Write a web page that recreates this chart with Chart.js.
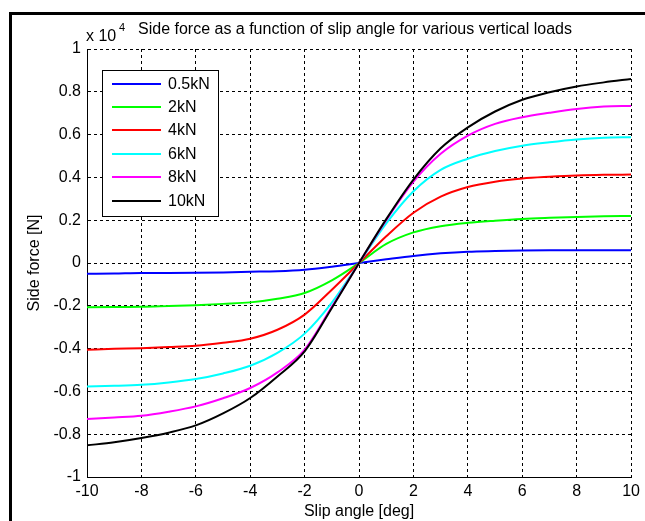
<!DOCTYPE html>
<html>
<head>
<meta charset="utf-8">
<script src="https://cdn.jsdelivr.net/npm/chart.js@4/dist/chart.umd.min.js"></script>
<style>
  html, body { margin: 0; padding: 0; background: #fff; }
  #wrap { width: 645px; height: 521px; position: relative; }
</style>
</head>
<body>
<div id="wrap"><canvas id="sideForce" width="645" height="521"></canvas></div>
<script>
// slip angle in degrees
const slipAngle = [-10, -9, -8, -7, -6, -5, -4, -3, -2, -1, 0, 1, 2, 3, 4, 5, 6, 7, 8, 9, 10];

// side force, in units of 10^4 N
const load05 = [-0.050, -0.049, -0.047, -0.047, -0.046, -0.044, -0.041, -0.038, -0.031, -0.017, 0, 0.017, 0.033, 0.045, 0.053, 0.056, 0.058, 0.059, 0.059, 0.060, 0.060];
const load2 = [-0.207, -0.206, -0.205, -0.201, -0.197, -0.191, -0.184, -0.167, -0.140, -0.081, 0, 0.089, 0.143, 0.172, 0.188, 0.198, 0.206, 0.211, 0.215, 0.218, 0.220];
const load4 = [-0.405, -0.401, -0.398, -0.393, -0.387, -0.373, -0.354, -0.312, -0.241, -0.125, 0, 0.125, 0.235, 0.310, 0.355, 0.380, 0.395, 0.403, 0.409, 0.412, 0.413];
const load6 = [-0.577, -0.574, -0.569, -0.558, -0.542, -0.516, -0.480, -0.420, -0.330, -0.185, 0, 0.185, 0.335, 0.435, 0.487, 0.523, 0.548, 0.564, 0.577, 0.585, 0.588];
const load8 = [-0.729, -0.722, -0.714, -0.695, -0.670, -0.632, -0.584, -0.511, -0.405, -0.205, 0, 0.200, 0.380, 0.510, 0.595, 0.650, 0.681, 0.702, 0.720, 0.731, 0.734];
const load10 = [-0.852, -0.838, -0.818, -0.793, -0.759, -0.703, -0.631, -0.530, -0.413, -0.210, 0, 0.205, 0.390, 0.536, 0.634, 0.708, 0.763, 0.798, 0.825, 0.844, 0.860];

const loadLabels = ["0.5kN", "2kN", "4kN", "6kN", "8kN", "10kN"];
const loadSeries = [load05, load2, load4, load6, load8, load10];
const loadColors = ["#0000ff", "#00ff00", "#ff0000", "#00ffff", "#ff00ff", "#000000"];

const FONT = "Liberation Sans, Arial, sans-serif";

function makeDataset(values, i) {
  return {
    label: loadLabels[i],
    data: values.map((v, j) => ({ x: slipAngle[j], y: v })),
    borderColor: loadColors[i],
    borderWidth: 2,
    pointRadius: 0,
    cubicInterpolationMode: "monotone",
    fill: false,
    order: loadSeries.length - 1 - i, // last series drawn on top, like matlab
  };
}

// frame, titles and the legend box
const decorations = {
  id: "decorations",
  beforeDraw(chart) {
    const ctx = chart.ctx;
    ctx.save();
    ctx.fillStyle = "#000";
    ctx.fillRect(9, 12, 3, 509);
    ctx.fillRect(9, 12, 636, 3);
    ctx.restore();
  },
  afterDraw(chart) {
    const ctx = chart.ctx;
    const area = chart.chartArea;
    ctx.save();
    ctx.fillStyle = "#000";
    ctx.textBaseline = "middle";

    // exponent
    ctx.font = "16px " + FONT;
    ctx.textAlign = "left";
    ctx.fillText("x 10", 86, 37);
    ctx.font = "11px " + FONT;
    ctx.fillText("4", 119, 28);

    // title
    ctx.font = "16px " + FONT;
    ctx.fillText("Side force as a function of slip angle for various vertical loads", 138, 30);

    // axis titles
    ctx.textAlign = "center";
    ctx.fillText("Slip angle [deg]", (area.left + area.right) / 2, 512);
    ctx.save();
    ctx.translate(35, (area.top + area.bottom) / 2);
    ctx.rotate(-Math.PI / 2);
    ctx.fillText("Side force [N]", 0, 0);
    ctx.restore();

    // legend
    ctx.fillStyle = "#fff";
    ctx.fillRect(102, 70, 116, 146);
    ctx.strokeStyle = "#000";
    ctx.lineWidth = 1;
    ctx.strokeRect(102.5, 70.5, 116, 146);
    ctx.textAlign = "left";
    chart.data.datasets.forEach((ds, i) => {
      const y = Math.round(83.5 + i * 23.4);
      ctx.strokeStyle = ds.borderColor;
      ctx.lineWidth = 2;
      ctx.beginPath();
      ctx.moveTo(112, y);
      ctx.lineTo(161, y);
      ctx.stroke();
      ctx.fillStyle = "#000";
      ctx.fillText(ds.label, 168, y + 1);
    });
    ctx.restore();
  },
};

const ctx = document.getElementById("sideForce").getContext("2d");
const sideForceChart = new Chart(ctx, {
  type: "line",
  data: {
    datasets: loadSeries.map(makeDataset),
  },
  options: {
    responsive: false,
    animation: false,
    events: [],
    layout: { padding: { left: 0, top: 49, right: 13, bottom: 0 } },
    plugins: {
      legend: { display: false },
      tooltip: { enabled: false },
    },
    scales: {
      x: {
        type: "linear",
        min: -10,
        max: 10,
        afterFit: (scale) => { scale.height = 44; },
        ticks: {
          stepSize: 2,
          padding: 5,
          color: "#000",
          font: { family: FONT, size: 16 },
          maxRotation: 0,
        },
        grid: { color: "#000", lineWidth: 1, drawTicks: false },
        border: { display: true, color: "#000", width: 1, dash: [3, 3] },
      },
      y: {
        type: "linear",
        min: -1,
        max: 1,
        afterFit: (scale) => { scale.width = 87; },
        ticks: {
          stepSize: 0.2,
          padding: 6,
          color: "#000",
          font: { family: FONT, size: 16 },
          callback: (v) => {
            const r = Math.round(v * 10) / 10;
            return r === 0 ? "0" : String(r);
          },
        },
        grid: { color: "#000", lineWidth: 1, drawTicks: false },
        border: { display: true, color: "#000", width: 1, dash: [3, 3] },
      },
    },
  },
  plugins: [decorations],
});
</script>
</body>
</html>
